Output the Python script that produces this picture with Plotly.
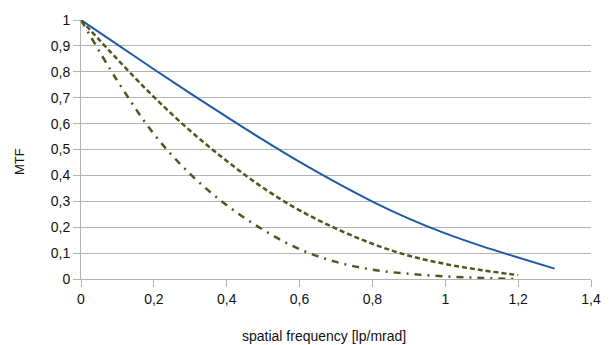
import plotly.graph_objects as go

freq = [0.0, 0.1, 0.2, 0.3, 0.4, 0.5, 0.6, 0.7, 0.8, 0.9, 1.0, 1.1, 1.2, 1.3]
mtf_solid = [1.0, 0.905, 0.81, 0.717, 0.626, 0.537, 0.452, 0.373, 0.299, 0.233, 0.176, 0.127, 0.083, 0.04]

freq2 = [0.0, 0.1, 0.2, 0.3, 0.4, 0.5, 0.6, 0.7, 0.8, 0.9, 1.0, 1.1, 1.2]
mtf_dashed = [1.0, 0.848, 0.703, 0.572, 0.456, 0.352, 0.265, 0.195, 0.136, 0.09, 0.058, 0.034, 0.015]
mtf_dashdot = [1.0, 0.765, 0.56, 0.405, 0.285, 0.19, 0.115, 0.066, 0.036, 0.02, 0.01, 0.004, 0.0]

x_ticks = [0, 0.2, 0.4, 0.6, 0.8, 1.0, 1.2, 1.4]
x_ticktext = ["0", "0,2", "0,4", "0,6", "0,8", "1", "1,2", "1,4"]
y_ticks = [0, 0.1, 0.2, 0.3, 0.4, 0.5, 0.6, 0.7, 0.8, 0.9, 1.0]
y_ticktext = ["0", "0,1", "0,2", "0,3", "0,4", "0,5", "0,6", "0,7", "0,8", "0,9", "1"]

FONT = "Liberation Sans, Arial, sans-serif"
OLIVE = "#4a5a1c"

fig = go.Figure()
fig.add_trace(go.Scatter(x=freq, y=mtf_solid, mode="lines",
                         line=dict(color="#1d5aa5", width=2, shape="spline")))
fig.add_trace(go.Scatter(x=freq2, y=mtf_dashed, mode="lines",
                         line=dict(color=OLIVE, width=2.5, dash="5px,3px", shape="spline")))
fig.add_trace(go.Scatter(x=freq2, y=mtf_dashdot, mode="lines",
                         line=dict(color=OLIVE, width=2.5, dash="7px,6px,2px,6px", shape="spline")))

fig.update_layout(
    width=613, height=345,
    margin=dict(l=81, r=19, t=16, b=66),
    plot_bgcolor="white", paper_bgcolor="white",
    showlegend=False,
    font=dict(family=FONT, size=14, color="#111111"),
    xaxis=dict(range=[0, 1.4], tickvals=x_ticks, ticktext=x_ticktext,
               showgrid=False, zeroline=False, showline=True, linecolor="#b3b3b3",
               linewidth=1, ticks="outside", ticklen=7, tickcolor="#b3b3b3",
               tickfont=dict(size=14)),
    yaxis=dict(range=[0, 1], tickvals=y_ticks, ticktext=y_ticktext,
               showgrid=True, gridcolor="#b3b3b3", gridwidth=1, zeroline=False,
               showline=True, linecolor="#b3b3b3", linewidth=1,
               ticks="outside", ticklen=7, tickcolor="#b3b3b3",
               tickfont=dict(size=14)),
    annotations=[
        dict(text="spatial frequency [lp/mrad]", xref="paper", yref="paper",
             x=(325 - 81) / 513, y=-(337 - 279.3) / 263.3, xanchor="center", yanchor="middle",
             showarrow=False, font=dict(size=14)),
        dict(text="MTF", xref="paper", yref="paper",
             x=(19 - 81) / 513, y=(279.3 - 160) / 263.3, xanchor="center", yanchor="middle",
             textangle=-90, showarrow=False, font=dict(size=13)),
    ],
)

fig.write_html("out.html",
               config={"displayModeBar": False},
               post_script="document.body.style.margin='0';document.body.style.overflow='hidden';")
